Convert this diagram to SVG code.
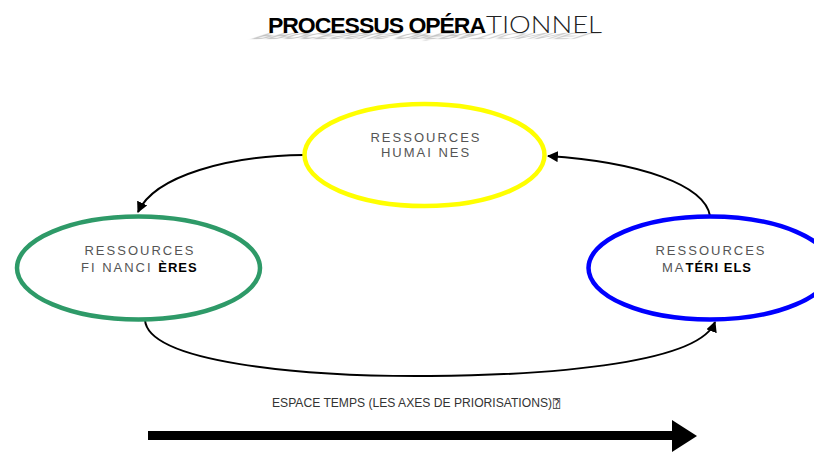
<svg xmlns="http://www.w3.org/2000/svg" width="814" height="452" viewBox="0 0 814 452">
<defs>
<style>
.lbl{font-family:"Liberation Sans",Arial,sans-serif;font-size:13px;fill:#555;letter-spacing:2px}
.b{font-weight:bold;fill:#000;letter-spacing:1px}
.conn{fill:none;stroke:#000;stroke-width:2}
.node{fill:#fff;stroke-width:4.5}
.ttl{font-family:"Liberation Sans",Arial,sans-serif;font-size:22px}
</style>
<marker id="ah" viewBox="0 0 10 10" refX="9" refY="5" markerWidth="5.5" markerHeight="5.5" orient="auto" markerUnits="strokeWidth">
<path d="M0,0 L10,5 L0,10 z" fill="#000"/>
</marker>
<filter id="blur" x="-10%" y="-50%" width="120%" height="200%"><feGaussianBlur stdDeviation="1.4"/></filter>
</defs>
<rect width="814" height="452" fill="#fff"/>
<g id="title">
<g transform="translate(0,33) matrix(1 0 1.2 -0.4 0 0) translate(0,-33)" filter="url(#blur)" opacity="0.55">
<text class="ttl" x="268" y="33" font-weight="bold" textLength="217" lengthAdjust="spacingAndGlyphs" fill="#777">PROCESSUS OPÉRA</text>
<text class="ttl" x="486" y="33" textLength="116" lengthAdjust="spacingAndGlyphs" fill="#777">TIONNEL</text>
</g>
<text class="ttl" x="268" y="33" font-weight="bold" textLength="217" lengthAdjust="spacingAndGlyphs" fill="#000" letter-spacing="-1">PROCESSUS OPÉRA</text>
<text x="486" y="33" font-family="Lato,'Liberation Sans',sans-serif" font-size="23" font-weight="300" textLength="116" lengthAdjust="spacingAndGlyphs" fill="#222">TIONNEL</text>
</g>
<g id="connectors">
<path class="conn" d="M303,155 C230,156 155,175 138,212" marker-end="url(#ah)"/>
<path class="conn" d="M710,216 C705,185 640,162 548,156" marker-end="url(#ah)"/>
<path class="conn" d="M145,320 C148,362 300,377 430,376 C560,375 700,362 715,322" marker-end="url(#ah)"/>
</g>
<g id="humaines">
<ellipse class="node" cx="424.5" cy="155" rx="120" ry="51" stroke="#ffff00"/>
<text class="lbl" x="426" y="142" text-anchor="middle">RESSOURCES</text>
<text class="lbl" x="426" y="157" text-anchor="middle">HUMAI NES</text>
</g>
<g id="financieres">
<ellipse class="node" cx="138.5" cy="268" rx="121.5" ry="51.5" stroke="#2e9a68"/>
<text class="lbl" x="140" y="255" text-anchor="middle">RESSOURCES</text>
<text class="lbl" x="81" y="272">FI NANCI <tspan class="b">ÈRES</tspan></text>
</g>
<g id="materiels">
<ellipse class="node" cx="710" cy="268" rx="121.5" ry="51.5" stroke="#0000ff"/>
<text class="lbl" x="711" y="255" text-anchor="middle">RESSOURCES</text>
<text class="lbl" x="662" y="272">MA<tspan class="b">TÉRI ELS</tspan></text>
</g>
<g id="axis">
<text x="272" y="407" font-family="'Liberation Sans',Arial,sans-serif" font-size="12" fill="#333" textLength="280" lengthAdjust="spacingAndGlyphs">ESPACE TEMPS (LES AXES DE PRIORISATIONS)</text>
<text x="553" y="408" font-family="'DejaVu Sans Mono','DejaVu Sans',sans-serif" font-size="12" fill="#333">⍰</text>
<polygon points="148,431 672,431 672,420 697,436 672,452 672,440 148,440" fill="#000"/>
</g>
</svg>
